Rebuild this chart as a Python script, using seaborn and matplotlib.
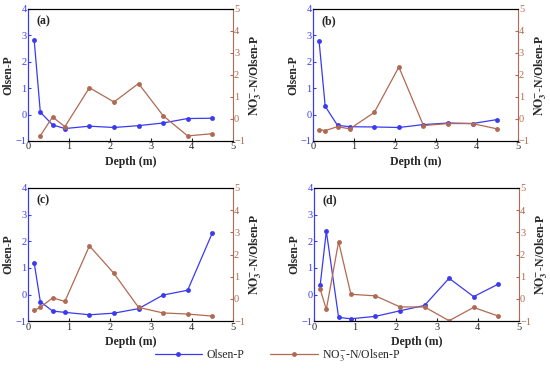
import pandas as pd
import matplotlib.pyplot as plt
import seaborn as sns
import numpy as np

# depth of samples (m)
depth = [0.15, 0.3, 0.6, 0.9, 1.5, 2.1, 2.7, 3.3, 3.9, 4.5]

# Olsen-P per panel
olsen_a = [2.81, 0.09, -0.39, -0.53, -0.44, -0.49, -0.42, -0.32, -0.15, -0.14]
olsen_b = [2.78, 0.31, -0.41, -0.46, -0.47, -0.49, -0.38, -0.32, -0.34, -0.19]
olsen_c = [1.19, -0.27, -0.62, -0.67, -0.76, -0.70, -0.53, -0.02, 0.16, 2.30]
olsen_d = [0.35, 2.38, -0.86, -0.91, -0.82, -0.61, -0.41, 0.61, -0.08, 0.39]

# NO3-N / Olsen-P per panel
ratio_a = [np.nan, -0.76, 0.09, -0.35, 1.42, 0.77, 1.61, 0.15, -0.77, -0.67]
ratio_b = [-0.48, -0.53, -0.35, -0.45, 0.30, 2.36, -0.30, -0.21, -0.21, -0.45]
ratio_c = [-0.51, -0.38, 0.05, -0.11, 2.39, 1.15, -0.38, -0.63, -0.68, -0.77]
ratio_d = [0.44, -0.47, 2.58, 0.21, 0.14, -0.36, -0.36, -0.98, -0.38, -0.77]

panels = ['(a)', '(b)', '(c)', '(d)']
olsen = [olsen_a, olsen_b, olsen_c, olsen_d]
ratio = [ratio_a, ratio_b, ratio_c, ratio_d]

sns.set_style('ticks')
plt.rcParams['font.family'] = ['Liberation Serif', 'DejaVu Serif']
plt.rcParams['mathtext.fontset'] = 'stix'
plt.rcParams['xtick.direction'] = 'in'
plt.rcParams['ytick.direction'] = 'in'

blue = '#3a3af0'
red = '#b06a52'
ratio_label = r'$\mathbf{NO_3^{-}}$-N/Olsen-P'

fig = plt.figure(figsize=(5.5, 3.7), dpi=100)
boxes = [
    [0.051, 0.619, 0.372, 0.357],
    [0.569, 0.619, 0.372, 0.357],
    [0.051, 0.132, 0.372, 0.36],
    [0.571, 0.132, 0.372, 0.36],
]

for i in range(4):
    ax = fig.add_axes(boxes[i])
    df = pd.DataFrame({'depth': depth, 'olsen': olsen[i], 'ratio': ratio[i]})
    sns.lineplot(data=df, x='depth', y='olsen', ax=ax, color=blue, marker='o',
                 markersize=3.5, markeredgewidth=0, linewidth=0.9, legend=False)
    ax2 = ax.twinx()
    sns.lineplot(data=df.dropna(), x='depth', y='ratio', ax=ax2, color=red, marker='o',
                 markersize=3.5, markeredgewidth=0, linewidth=0.9, legend=False)
    ax.set_xlim(0, 5)
    ax.set_ylim(-1, 4)
    ax2.set_ylim(-1, 5)
    ax.set_xticks(range(6))
    ax.set_yticks(range(-1, 5))
    ax2.set_yticks(range(-1, 6))
    ax.tick_params(axis='x', labelsize=7.5, length=2.5, pad=1)
    ax.tick_params(axis='y', colors=blue, labelsize=7.5, length=2.5, pad=1)
    ax2.tick_params(axis='y', colors=red, labelsize=7.5, length=2.5, pad=1)
    ax.spines['left'].set_color(blue)
    ax2.spines['left'].set_color(blue)
    ax2.spines['right'].set_color(red)
    ax.spines['right'].set_visible(False)
    for a in (ax, ax2):
        a.spines['top'].set_visible(True)
        a.spines['top'].set_color('black')
        a.spines['bottom'].set_color('black')
        for s in a.spines.values():
            s.set_linewidth(0.8)
    ax.set_xlabel('Depth (m)', fontsize=8.5, fontweight='bold', labelpad=3)
    ax.set_ylabel('Olsen-P', fontsize=8.5, fontweight='bold', labelpad=1)
    ax2.set_ylabel(ratio_label, fontsize=8.5, fontweight='bold', labelpad=2)
    ax.text(0.04, 0.95, panels[i], transform=ax.transAxes, fontsize=8.5,
            fontweight='bold', va='top', ha='left')

h1, = plt.plot([], [], color=blue, marker='o', markersize=3.5, markeredgewidth=0, linewidth=0.9)
h2, = plt.plot([], [], color=red, marker='o', markersize=3.5, markeredgewidth=0, linewidth=0.9)
fig.legend([h1, h2], ['Olsen-P', r'NO$_3^{-}$-N/Olsen-P'], loc='lower center',
           bbox_to_anchor=(0.505, -0.01), ncol=2, frameon=False, fontsize=8.5,
           handlelength=4, handletextpad=0.4, columnspacing=2.2)

fig.savefig('out.png', dpi=100)
